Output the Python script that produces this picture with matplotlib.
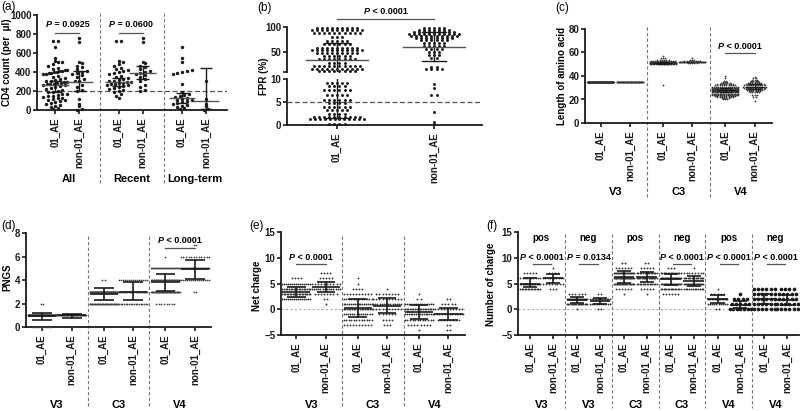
import numpy as np
import matplotlib
matplotlib.use("Agg")
import matplotlib.pyplot as plt
from matplotlib.offsetbox import TextArea, HPacker, AnnotationBbox
from matplotlib.transforms import blended_transform_factory

W, H = 800, 411
plt.rcParams['font.family'] = ['Liberation Sans', 'DejaVu Sans']
plt.rcParams['font.weight'] = 'bold'

SUBTYPES = ['01_AE', 'non-01_AE']

# (a) CD4 count (per ul), raw values per group
cd4_recent_01 = [730, 725, 520, 500, 480, 460, 440, 430, 420, 410, 400, 390, 380, 360,
                 350, 340, 330, 320, 310, 300, 295, 290, 285, 280, 275, 270, 265, 260,
                 250, 240, 230, 220, 210, 200, 190, 170, 150, 130]
cd4_recent_non = [760, 720, 510, 490, 460, 450, 430, 410, 400, 390, 380, 370, 350, 330,
                  300, 260, 240, 210, 200]
cd4_long_01 = [660, 550, 500, 420, 410, 400, 390, 380, 270, 190, 170, 160, 150, 140, 130,
               120, 110, 100, 90, 80, 70, 60, 50, 40, 30, 20, 10]
cd4_long_non = [300, 120, 60, 40, 10, 5]
cd4_sections = ['All', 'Recent', 'Long-term']
# median / lower / upper bar for All 01, All non, Recent 01, Recent non, Long 01, Long non
cd4_mid = [265, 290, 290, 390, 125, 90]
cd4_lo = [190, 200, 250, 330, 70, 10]
cd4_hi = [310, 410, 340, 460, 180, 440]

# (b) FPR (%) rows: value -> number of sequences
fpr_01 = {97: 9, 93: 11, 87: 10, 79: 3, 71: 5, 66: 6, 58: 9, 53: 11, 48: 9, 41: 6,
          35: 8, 28: 4, 21: 10, 16: 11, 12: 8,
          9.2: 5, 8.5: 4, 7.5: 6, 6.5: 5, 5.5: 6, 4.8: 4, 4.0: 6, 3.2: 5, 2.4: 4,
          1.8: 10, 1.3: 12, 0.3: 4}
fpr_non = {97: 5, 94: 7, 90: 9, 86: 11, 82: 10, 78: 8, 73: 6, 68: 5, 62: 5, 56: 4,
           50: 3, 44: 3, 38: 2, 20: 2, 16: 4,
           9.0: 1, 8.0: 1, 6.6: 2, 2.9: 1, 0.6: 1, 0.2: 1}
fpr_mid = [34, 60]
fpr_lo = [1.5, 32]
fpr_hi = [67, 90]

# (c) length of amino acid: value -> count
len_v3_01 = {35: 150}
len_v3_non = {35: 60}
len_c3_01 = {32: 1, 50: 18, 51: 60, 52: 40, 53: 12, 54: 6, 55: 3, 57: 1}
len_c3_non = {51: 5, 52: 40, 53: 8, 54: 3, 55: 1}
len_v4_01 = {20: 3, 21: 4, 22: 8, 23: 10, 24: 14, 25: 18, 26: 22, 27: 25, 28: 25, 29: 22,
             30: 18, 31: 14, 32: 10, 33: 8, 34: 5, 35: 3, 36: 2, 38: 1, 40: 1}
len_v4_non = {19: 1, 22: 2, 24: 3, 26: 5, 27: 6, 28: 8, 29: 9, 30: 10, 31: 11, 32: 10,
              33: 9, 34: 7, 35: 5, 36: 4, 37: 3, 38: 2, 39: 1}
len_mid = [35, 35, 51, 52, 28, 31]
len_lo = [35, 35, 50, 52, 26, 29]
len_hi = [35, 35, 52, 52, 30, 33]

regions = ['V3', 'C3', 'V4']

# (d) PNGS counts per level, groups: V3 01, V3 non, C3 01, C3 non, V4 01, V4 non
pngs_levels = [0, 1, 2, 3, 4, 5, 6, 7]
pngs_counts = [[8, 130, 2, 0, 0, 0, 0, 0],
               [1, 55, 0, 0, 0, 0, 0, 0],
               [0, 0, 40, 90, 2, 0, 0, 0],
               [0, 0, 18, 25, 15, 0, 0, 0],
               [0, 0, 8, 50, 40, 30, 1, 0],
               [0, 0, 0, 2, 15, 30, 12, 2]]
pngs_mid = [0.9, 1.0, 2.8, 3.0, 3.8, 4.9]
pngs_lo = [0.6, 0.8, 2.3, 2.3, 3.1, 4.1]
pngs_hi = [1.2, 1.1, 3.3, 3.8, 4.5, 5.7]

# (e) net charge counts per level
net_levels = [-4, -3, -2, -1, 0, 1, 2, 3, 4, 5, 6, 7]
net_counts = [[0, 0, 0, 0, 0, 0, 15, 20, 18, 15, 4, 0],
              [0, 0, 0, 0, 0, 1, 2, 8, 14, 10, 5, 4],
              [0, 10, 12, 14, 18, 16, 12, 10, 4, 1, 1, 0],
              [0, 3, 4, 6, 10, 14, 10, 8, 1, 0, 0, 0],
              [1, 8, 12, 16, 18, 14, 2, 1, 0, 0, 0, 0],
              [2, 2, 8, 12, 10, 5, 2, 0, 0, 0, 0, 0]]
net_mid = [3.3, 4.3, 0.2, 0.7, -0.5, -0.9]
net_lo = [2.4, 3.4, -1.6, -0.7, -1.8, -2.1]
net_hi = [4.3, 5.2, 2.0, 2.1, 0.9, 0.3]

# (f) number of charge, sections V3 pos, V3 neg, C3 pos, C3 neg, V4 pos, V4 neg
chg_regions = ['V3', 'V3', 'C3', 'C3', 'V4', 'V4']
chg_kind = ['pos', 'neg', 'pos', 'neg', 'pos', 'neg']
chg_levels = [0, 1, 2, 3, 4, 5, 6, 7, 8, 9]
chg_counts = [[0, 0, 0, 0, 14, 18, 10, 5, 0, 0],
              [0, 0, 0, 0, 3, 8, 10, 4, 1, 0],
              [1, 18, 22, 6, 0, 0, 0, 0, 0, 0],
              [2, 10, 14, 2, 0, 0, 0, 0, 0, 0],
              [0, 0, 0, 1, 6, 20, 25, 22, 6, 2],
              [0, 0, 0, 1, 5, 15, 18, 14, 5, 2],
              [0, 0, 0, 6, 15, 22, 25, 15, 3, 0],
              [0, 0, 0, 0, 12, 20, 16, 8, 1, 0],
              [2, 10, 15, 5, 1, 0, 0, 0, 0, 0],
              [7, 5, 4, 1, 0, 0, 0, 0, 0, 0],
              [6, 6, 6, 6, 6, 0, 0, 0, 0, 0],
              [6, 6, 5, 5, 4, 0, 0, 0, 0, 0]]
chg_mid = [5.0, 6.0, 1.7, 1.6, 6.3, 6.3, 5.8, 5.4, 2.0, 0.9, 2.0, 1.7]
chg_lo = [4.3, 5.1, 1.2, 1.0, 5.1, 5.2, 4.8, 4.5, 1.2, 0.3, 1.0, 0.8]
chg_hi = [6.0, 6.8, 2.4, 2.2, 7.4, 7.3, 6.8, 6.4, 2.8, 1.6, 3.0, 2.8]
chg_p = ['< 0.0001', '= 0.0134', None, '< 0.0001', '< 0.0001', '< 0.0001']

fig = plt.figure(figsize=(W / 100, H / 100), dpi=100)
INK = '#1a1a1a'


def px_ax(x0, y0, x1, y1):
    return fig.add_axes([x0 / W, 1 - y1 / H, (x1 - x0) / W, (y1 - y0) / H])


def style(ax, ylim, yticks, fs=7):
    for s in ['top', 'right']:
        ax.spines[s].set_visible(False)
    for s in ['left', 'bottom']:
        ax.spines[s].set_linewidth(1.3)
        ax.spines[s].set_color(INK)
    ax.set_ylim(ylim)
    ax.set_yticks(yticks)
    ax.tick_params(axis='y', length=3, width=1.2, labelsize=fs, pad=1, colors=INK)
    ax.tick_params(axis='x', length=3, width=1.2, labelsize=7, pad=2, labelrotation=90,
                   colors=INK)
    ax.patch.set_alpha(0)


def swarm(ax, x, values, row, dx, maxw, size, color=INK):
    v = np.sort(np.asarray(values, float))
    keys = np.round(v / row).astype(int)
    xs = np.zeros_like(v)
    for k in np.unique(keys):
        idx = np.where(keys == k)[0]
        n = len(idx)
        step = dx if n < 2 else min(dx, maxw / (n - 1))
        xs[idx] = x + (np.arange(n) - (n - 1) / 2) * step
    ax.scatter(xs, v, s=size, color=color, linewidths=0, zorder=3, clip_on=False)


def bars(ax, x, c, lo, hi, wmid, wcap, lw=1.0, mid_color='#555'):
    kw = dict(lw=lw, color=INK, zorder=4, solid_capstyle='butt')
    ax.plot([x - wmid / 2, x + wmid / 2], [c, c], **dict(kw, color=mid_color))
    ax.plot([x, x], [lo, hi], **kw)
    ax.plot([x - wcap / 2, x + wcap / 2], [lo, lo], **kw)
    ax.plot([x - wcap / 2, x + wcap / 2], [hi, hi], **kw)


def p_label(ax, x0, x1, y_line, y_text, op, fs=6.5):
    ax.plot([x0, x1], [y_line, y_line], color='#555', lw=0.9, clip_on=False)
    box = HPacker(children=[TextArea('P', textprops=dict(style='italic', weight='bold', size=fs)),
                            TextArea(' ' + op, textprops=dict(weight='bold', size=fs))],
                  pad=0, sep=0, align='baseline')
    ab = AnnotationBbox(box, ((x0 + x1) / 2, y_text), xycoords='data', frameon=False,
                        box_alignment=(0.5, 0.5), annotation_clip=False)
    ax.add_artist(ab)


def sections(ax, names, p1, p2, y_top, y_bot, y_lab, fs=8):
    n = len(names)
    ax.set_xlim(0, n)
    pos = []
    for s in range(n):
        pos += [s + p1, s + p2]
    ax.set_xticks(pos)
    ax.set_xticklabels(SUBTYPES * n)
    tr = blended_transform_factory(ax.transData, fig.transFigure)
    for s in range(1, n):
        ax.plot([s, s], [1 - y_top / H, 1 - y_bot / H], transform=tr, color='#777', lw=0.8,
                ls=(0, (3, 2)), clip_on=False)
    for s, name in enumerate(names):
        ax.text(s + 0.5, 1 - y_lab / H, name, transform=tr, ha='center', va='center',
                fontsize=fs, fontweight='bold')
    return pos


def fig_text(x, y, s, **kw):
    fig.text(x / W, 1 - y / H, s, ha='center', va='center', **kw)


# ---------------- (a)
ax = px_ax(37, 15, 227, 110)
style(ax, (0, 1000), [0, 200, 400, 600, 800, 1000], fs=7)
pos = sections(ax, cd4_sections, 0.29, 0.67, 13, 183, 179)
cd4_sets = [cd4_recent_01 + cd4_long_01, cd4_recent_non + cd4_long_non,
            cd4_recent_01, cd4_recent_non, cd4_long_01, cd4_long_non]
for i, vals in enumerate(cd4_sets):
    swarm(ax, pos[i], vals, 40, 0.075, 0.38, 6)
    bars(ax, pos[i], cd4_mid[i], cd4_lo[i], cd4_hi[i], 0.42, 0.2)
ax.axhline(200, color='#555', lw=0.9, ls=(0, (4, 2)), zorder=2, xmax=1)
p_label(ax, pos[0], pos[1], 810, 895, '= 0.0925')
p_label(ax, pos[2], pos[3], 810, 895, '= 0.0600')
fig_text(7, 62, 'CD4 count (per  \u03bcl)', rotation=90, fontsize=7, fontweight='bold')
fig_text(9, 7, '(a)', fontsize=8.5, fontweight='normal')

# ---------------- (b) broken axis
axu = px_ax(287, 27, 482, 72)
axl = px_ax(287, 79, 482, 125)
style(axu, (10, 100), [10, 50, 100])
axu.set_yticklabels(['', '50', '100'])
axu.spines['bottom'].set_visible(False)
axu.set_xticks([])
style(axl, (0, 10), [0, 5, 10])
for a in (axu, axl):
    a.set_xlim(-0.515, 1.495)
axl.set_xticks([0, 1])
axl.set_xticklabels(SUBTYPES)
for i, rows in enumerate([fpr_01, fpr_non]):
    hi_vals = np.repeat([k for k in rows if k > 10], [rows[k] for k in rows if k > 10])
    lo_vals = np.repeat([k for k in rows if k <= 10], [rows[k] for k in rows if k <= 10])
    swarm(axu, i, hi_vals, 1, 0.052, 0.55, 4.5)
    swarm(axl, i, lo_vals, 0.2, 0.052, 0.55, 4.5)
# summary bars spanning both segments
for i in range(2):
    for a in (axu, axl):
        a.plot([i, i], [fpr_lo[i], fpr_hi[i]], color=INK, lw=1.0, zorder=4)
    for a, y in [(axu if fpr_hi[i] > 10 else axl, fpr_hi[i]), (axu if fpr_lo[i] > 10 else axl, fpr_lo[i])]:
        a.plot([i - 0.125, i + 0.125], [y, y], color=INK, lw=1.0, zorder=4)
    a = axu if fpr_mid[i] > 10 else axl
    a.plot([i - 0.32, i + 0.32], [fpr_mid[i], fpr_mid[i]], color='#555', lw=1.0, zorder=4)
axl.axhline(5, color='#555', lw=0.9, ls=(0, (4, 2)), zorder=2)
p_label(axu, 0, 1, 116, 132, '< 0.0001')
fig_text(264, 76, 'FPR (%)', rotation=90, fontsize=7, fontweight='bold')
fig_text(264, 8, '(b)', fontsize=8.5, fontweight='normal')

# ---------------- (c)
ax = px_ax(585, 29, 772, 123)
style(ax, (0, 80), [0, 20, 40, 60, 80])
pos = sections(ax, regions, 0.25, 0.72, 27, 197, 192)
len_sets = [len_v3_01, len_v3_non, len_c3_01, len_c3_non, len_v4_01, len_v4_non]
for i, rows in enumerate(len_sets):
    vals = np.repeat(list(rows.keys()), list(rows.values()))
    swarm(ax, pos[i], vals, 1, 0.036, 0.42, 1.6, color='#333')
    if len_hi[i] > len_lo[i]:
        bars(ax, pos[i], len_mid[i], len_lo[i], len_hi[i], 0.3, 0.2, lw=0.9, mid_color=INK)
p_label(ax, pos[4], pos[5], 59.6, 64.7, '< 0.0001')
fig_text(562, 76, 'Length of amino acid', rotation=90, fontsize=7, fontweight='bold')
fig_text(562, 8, '(c)', fontsize=8.5, fontweight='normal')

# ---------------- (d)
ax = px_ax(26, 233, 211, 327)
style(ax, (0, 8), [0, 2, 4, 6, 8])
pos = sections(ax, regions, 0.26, 0.74, 236, 408, 405)
for i, cnt in enumerate(pngs_counts):
    swarm(ax, pos[i], np.repeat(pngs_levels, cnt), 1, 0.042, 0.46, 1.6, color='#444')
    bars(ax, pos[i], pngs_mid[i], pngs_lo[i], pngs_hi[i], 0.46, 0.32, lw=1.2, mid_color=INK)
p_label(ax, pos[4], pos[5], 6.7, 7.4, '< 0.0001')
fig_text(7, 277, 'PNGS', rotation=90, fontsize=7, fontweight='bold')
fig_text(8, 226, '(d)', fontsize=8.5, fontweight='normal')

# ---------------- (e)
ax = px_ax(281, 232, 465, 335)
style(ax, (-5, 15), [-5, 0, 5, 10, 15])
pos = sections(ax, regions, 0.25, 0.73, 236, 408, 405)
ax.axhline(0, color='#aaa', lw=0.8, ls=(0, (2, 2)), zorder=1)
for i, cnt in enumerate(net_counts):
    swarm(ax, pos[i], np.repeat(net_levels, cnt), 1, 0.05, 0.46, 1.8, color='#333')
    bars(ax, pos[i], net_mid[i], net_lo[i], net_hi[i], 0.46, 0.3, lw=1.2, mid_color=INK)
p_label(ax, pos[0], pos[1], 8.8, 10.1, '< 0.0001')
fig_text(257, 286, 'Net charge', rotation=90, fontsize=7, fontweight='bold')
fig_text(257, 226, '(e)', fontsize=8.5, fontweight='normal')

# ---------------- (f)
ax = px_ax(518, 232, 799, 335)
style(ax, (-5, 15), [-5, 0, 5, 10, 15])
pos = sections(ax, chg_regions, 0.26, 0.75, 234, 408, 405)
ax.axhline(0, color='#aaa', lw=0.8, ls=(0, (2, 2)), zorder=1)
for i, cnt in enumerate(chg_counts):
    big = i in (9, 10, 11)
    swarm(ax, pos[i], np.repeat(chg_levels, cnt), 1, 0.09 if big else 0.065,
          0.46 if big else 0.42, 7 if big else 1.8, color=INK if big else '#333')
    bars(ax, pos[i], chg_mid[i], chg_lo[i], chg_hi[i], 0.44, 0.3, lw=1.2, mid_color=INK)
tr = blended_transform_factory(ax.transData, fig.transFigure)
for s, kind in enumerate(chg_kind):
    ax.text(s + 0.5, 1 - 238 / H, kind, transform=tr, ha='center', va='center', fontsize=7,
            fontweight='bold')
    if chg_p[s]:
        p_label(ax, pos[2 * s] + 0.05, pos[2 * s + 1] - 0.05, 8.8, 10.1, chg_p[s])
fig_text(491, 284, 'Number of charge', rotation=90, fontsize=7, fontweight='bold')
fig_text(492, 226, '(f)', fontsize=8.5, fontweight='normal')

fig.savefig('out.png', dpi=100)
